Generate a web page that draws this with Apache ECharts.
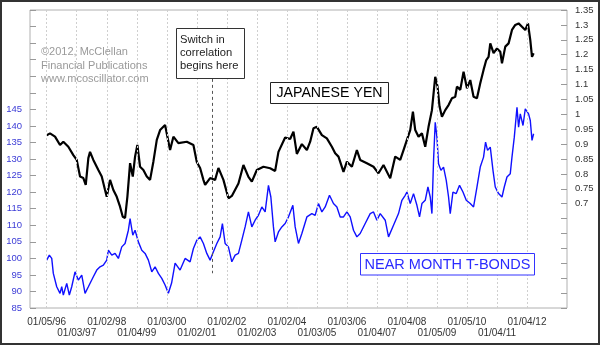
<!DOCTYPE html>
<html>
<head>
<meta charset="utf-8">
<script src="https://cdn.jsdelivr.net/npm/echarts@6/dist/echarts.min.js"></script>
<style>
html,body{margin:0;padding:0;background:#fff;}
#c{width:600px;height:345px;}
</style>
</head>
<body>
<div id="c"></div>
<script>
// x-axis tick labels (first trading day of each year)
const labelYears = [1996,1997,1998,1999,2000,2001,2002,2003,2004,2005,2006,2007,2008,2009,2010,2011,2012];
const xLabels = ['01/05/96','01/03/97','01/02/98','01/04/99','01/03/00','01/02/01','01/02/02','01/02/03','01/02/04','01/03/05','01/03/06','01/04/07','01/04/08','01/05/09','01/05/10','01/04/11','01/04/12'];

// Japanese Yen (right axis), x in fractional years
const yenDates = [1996.000,1996.110,1996.277,1996.443,1996.553,1996.720,1996.887,1997.000,1997.110,1997.220,1997.300,1997.387,1997.443,1997.553,1997.720,1997.833,1997.943,1998.000,1998.110,1998.220,1998.333,1998.443,1998.533,1998.610,1998.687,1998.777,1998.867,1998.943,1999.020,1999.110,1999.220,1999.333,1999.443,1999.553,1999.667,1999.777,1999.943,2000.110,2000.220,2000.387,2000.667,2000.887,2001.000,2001.110,2001.220,2001.277,2001.443,2001.610,2001.720,2001.887,2002.053,2002.167,2002.387,2002.553,2002.720,2002.833,2003.000,2003.220,2003.443,2003.610,2003.720,2003.943,2004.110,2004.220,2004.333,2004.500,2004.667,2004.777,2004.887,2005.000,2005.167,2005.333,2005.500,2005.610,2005.720,2005.887,2006.000,2006.167,2006.333,2006.443,2006.667,2006.887,2007.053,2007.220,2007.443,2007.610,2007.777,2007.887,2008.000,2008.110,2008.200,2008.277,2008.387,2008.500,2008.610,2008.720,2008.833,2008.943,2009.020,2009.087,2009.167,2009.277,2009.387,2009.500,2009.610,2009.667,2009.777,2009.887,2010.000,2010.110,2010.220,2010.333,2010.443,2010.553,2010.643,2010.720,2010.777,2010.887,2011.000,2011.110,2011.167,2011.277,2011.387,2011.500,2011.610,2011.720,2011.833,2011.943,2012.033,2012.110,2012.167,2012.220];
const yenValues = [0.930,0.936,0.925,0.897,0.908,0.891,0.863,0.847,0.791,0.786,0.763,0.853,0.874,0.847,0.813,0.791,0.746,0.723,0.780,0.746,0.723,0.690,0.656,0.652,0.723,0.836,0.791,0.858,0.897,0.824,0.813,0.791,0.780,0.841,0.914,0.947,0.964,0.880,0.925,0.903,0.908,0.897,0.840,0.820,0.780,0.763,0.786,0.780,0.820,0.780,0.718,0.726,0.768,0.830,0.790,0.774,0.813,0.824,0.819,0.810,0.874,0.922,0.917,0.942,0.867,0.900,0.880,0.908,0.953,0.958,0.930,0.919,0.891,0.869,0.858,0.807,0.841,0.824,0.880,0.847,0.836,0.824,0.802,0.830,0.785,0.858,0.847,0.880,0.914,0.947,1.009,0.947,0.925,0.936,0.891,0.958,1.014,1.126,1.093,1.026,0.992,1.014,1.031,1.054,1.059,1.093,1.082,1.143,1.087,1.115,1.059,1.054,1.104,1.149,1.182,1.193,1.238,1.205,1.221,1.210,1.171,1.227,1.238,1.283,1.300,1.305,1.294,1.283,1.305,1.249,1.193,1.205];

// Near month T-Bonds (left axis)
const bondDates = [1996.000,1996.087,1996.167,1996.220,1996.333,1996.443,1996.500,1996.553,1996.667,1996.753,1996.833,1996.943,1997.053,1997.167,1997.277,1997.387,1997.553,1997.667,1997.777,1997.887,1998.000,1998.053,1998.167,1998.277,1998.387,1998.500,1998.610,1998.720,1998.777,1998.867,1998.943,1999.053,1999.167,1999.277,1999.387,1999.500,1999.610,1999.720,1999.833,1999.943,2000.053,2000.160,2000.277,2000.443,2000.610,2000.777,2000.887,2001.000,2001.110,2001.220,2001.333,2001.443,2001.553,2001.667,2001.777,2001.853,2001.943,2002.053,2002.167,2002.277,2002.387,2002.500,2002.610,2002.720,2002.833,2002.943,2003.053,2003.167,2003.277,2003.387,2003.467,2003.553,2003.610,2003.720,2003.833,2003.943,2004.053,2004.200,2004.277,2004.387,2004.500,2004.667,2004.833,2004.943,2005.053,2005.167,2005.277,2005.420,2005.553,2005.667,2005.777,2005.887,2006.000,2006.110,2006.220,2006.333,2006.443,2006.610,2006.777,2006.887,2007.000,2007.110,2007.277,2007.387,2007.553,2007.720,2007.833,2007.943,2008.000,2008.110,2008.220,2008.333,2008.420,2008.500,2008.610,2008.700,2008.777,2008.833,2008.887,2008.943,2009.000,2009.053,2009.133,2009.220,2009.310,2009.387,2009.443,2009.533,2009.643,2009.753,2009.867,2009.977,2010.110,2010.220,2010.333,2010.443,2010.553,2010.620,2010.687,2010.777,2010.867,2010.943,2011.053,2011.167,2011.243,2011.333,2011.443,2011.500,2011.577,2011.667,2011.720,2011.777,2011.867,2011.943,2012.053,2012.110,2012.167,2012.220];
const bondValues = [99.46,100.96,99.97,95.45,91.42,89.43,91.42,88.92,92.44,88.92,91.42,95.93,93.43,94.94,89.43,91.42,94.43,96.45,97.44,97.95,99.46,102.47,100.96,101.48,99.97,103.46,104.49,108.49,112.02,106.99,108.49,104.97,102.47,101.48,99.46,95.93,97.44,95.45,93.95,91.93,89.43,92.53,98.55,96.45,99.97,98.95,102.98,105.48,106.48,104.49,101.48,99.46,101.96,104.49,106.48,110.51,104.49,103.46,98.95,100.96,101.48,105.48,109.49,114.01,109.49,111.51,113.01,115.51,114.01,122.05,118.52,109.49,104.97,107.98,109.49,110.51,112.5,116.02,109.49,104.49,107.5,112.5,113.52,113.01,116.54,114.01,115.51,119.04,116.54,115.51,112.5,112.5,114.01,112.5,108.49,106.48,107.5,110.51,113.52,114.01,111.51,113.52,111.51,106.48,110.0,113.52,117.53,119.04,120.03,116.54,119.55,116.02,112.5,116.54,117.53,121.54,118.52,113.52,129.58,141.11,136.6,128.58,126.57,127.56,123.55,118.52,113.52,120.03,119.55,122.05,120.03,117.53,116.54,115.51,121.54,127.56,130.57,135.09,132.59,133.58,126.57,121.54,119.55,118.52,121.54,124.55,125.57,130.57,136.6,145.63,139.61,143.64,140.12,145.15,143.64,141.63,135.6,137.62];

// "Switch in correlation" marker date
const switchDate = 2001.5;

const chart = echarts.init(document.getElementById('c'), null, {renderer: 'canvas'});
const FONT = '"Liberation Sans", Arial, sans-serif';

const yenData = yenDates.map((d, i) => [d, yenValues[i]]);
const bondData = bondDates.map((d, i) => [d, bondValues[i]]);
const upperYears = labelYears.filter((y, i) => i % 2 === 0);
const lowerYears = labelYears.filter((y, i) => i % 2 === 1);
const labelFor = v => { const i = labelYears.indexOf(Math.round(v)); return i < 0 ? '' : xLabels[i]; };

function xAxisDef(values, offset) {
  return {
    type: 'value', position: 'bottom', offset: offset, min: 1995.443, max: 2013.333,
    axisLine: {show: false}, splitLine: {show: false}, axisTick: {show: false},
    axisLabel: {
      customValues: values, showMinLabel: true, showMaxLabel: true, hideOverlap: false,
      fontFamily: FONT, fontSize: 10, color: '#333', margin: 9, formatter: labelFor
    }
  };
}

chart.setOption({
  animation: false,
  backgroundColor: '#ffffff',
  grid: {left: 30, right: 33, top: 10, bottom: 37, show: true, borderColor: '#b0b0b0', borderWidth: 1, backgroundColor: '#ffffff'},
  xAxis: [xAxisDef(upperYears, 0), xAxisDef(lowerYears, 11.5)],
  yAxis: [
    {
      type: 'value', position: 'left', min: 85, max: 175, interval: 5,
      axisLine: {show: false}, splitLine: {show: false},
      axisTick: {show: true, inside: true, length: 6, lineStyle: {color: '#999'}},
      axisLabel: {fontFamily: FONT, fontSize: 9.5, color: '#3b3bd6', margin: 8,
        formatter: v => (v <= 145.001 ? String(Math.round(v)) : '')}
    },
    {
      type: 'value', position: 'right', min: 0.35, max: 1.35, interval: 0.05,
      axisLine: {show: false}, splitLine: {show: false},
      axisTick: {show: true, inside: true, length: 6, lineStyle: {color: '#999'}},
      axisLabel: {fontFamily: FONT, fontSize: 9.5, color: '#333', margin: 8,
        formatter: v => (v >= 0.699 ? String(parseFloat(v.toFixed(2))) : '')}
    }
  ],
  series: [
    {
      type: 'line', xAxisIndex: 0, yAxisIndex: 0, data: [], z: 1, silent: true,
      markLine: {
        silent: true, symbol: ['none', 'none'], label: {show: false}, animation: false,
        lineStyle: {color: '#cfcfcf', type: [2, 2], width: 1},
        data: labelYears.map(y => ({xAxis: y}))
      }
    },
    {
      name: 'NEAR MONTH T-BONDS', type: 'line', xAxisIndex: 0, yAxisIndex: 0, data: bondData, z: 3,
      showSymbol: false, symbol: 'none', lineStyle: {color: '#1010ff', width: 1.4}
    },
    {
      name: 'JAPANESE YEN', type: 'line', xAxisIndex: 0, yAxisIndex: 1, data: yenData, z: 4,
      showSymbol: false, symbol: 'none', lineStyle: {color: '#000000', width: 2.2}
    },
    {
      type: 'line', xAxisIndex: 0, yAxisIndex: 0, data: [], z: 5, silent: true,
      markLine: {
        silent: true, symbol: ['none', 'none'], label: {show: false}, animation: false,
        lineStyle: {color: '#555', type: [3, 3], width: 1},
        data: [[{coord: [switchDate, 154.2]}, {coord: [switchDate, 95.5]}]]
      }
    }
  ],
  graphic: [
    {type: 'text', left: 41, top: 45.5, z: 10,
      style: {text: '©2012, McClellan\nFinancial Publications\nwww.mcoscillator.com', font: '11px ' + FONT, fill: '#9a9a9a', lineHeight: 13.5}},
    {type: 'rect', shape: {x: 176.5, y: 28.5, width: 68, height: 50}, z: 10,
      style: {fill: '#ffffff', stroke: '#333', lineWidth: 1}},
    {type: 'text', left: 180, top: 33.5, z: 11,
      style: {text: 'Switch in\ncorrelation\nbegins here', font: '11.2px ' + FONT, fill: '#222', lineHeight: 13}},
    {type: 'rect', shape: {x: 270.5, y: 82.5, width: 118, height: 21}, z: 10,
      style: {fill: '#ffffff', stroke: '#222', lineWidth: 1}},
    {type: 'text', x: 329.5, y: 93.5, z: 11,
      style: {text: 'JAPANESE YEN', font: '14.2px ' + FONT, fill: '#000', align: 'center', verticalAlign: 'middle'}},
    {type: 'rect', shape: {x: 360.5, y: 253.5, width: 174, height: 21.5}, z: 10,
      style: {fill: '#ffffff', stroke: '#3333ff', lineWidth: 1}},
    {type: 'text', x: 447.5, y: 264.5, z: 11,
      style: {text: 'NEAR MONTH T-BONDS', font: '14.5px ' + FONT, fill: '#2b2bff', align: 'center', verticalAlign: 'middle'}},
    {type: 'rect', shape: {x: 1, y: 1, width: 598, height: 343}, z: 20, silent: true,
      style: {fill: 'none', stroke: '#333', lineWidth: 2}}
  ]
});
</script>
</body>
</html>
